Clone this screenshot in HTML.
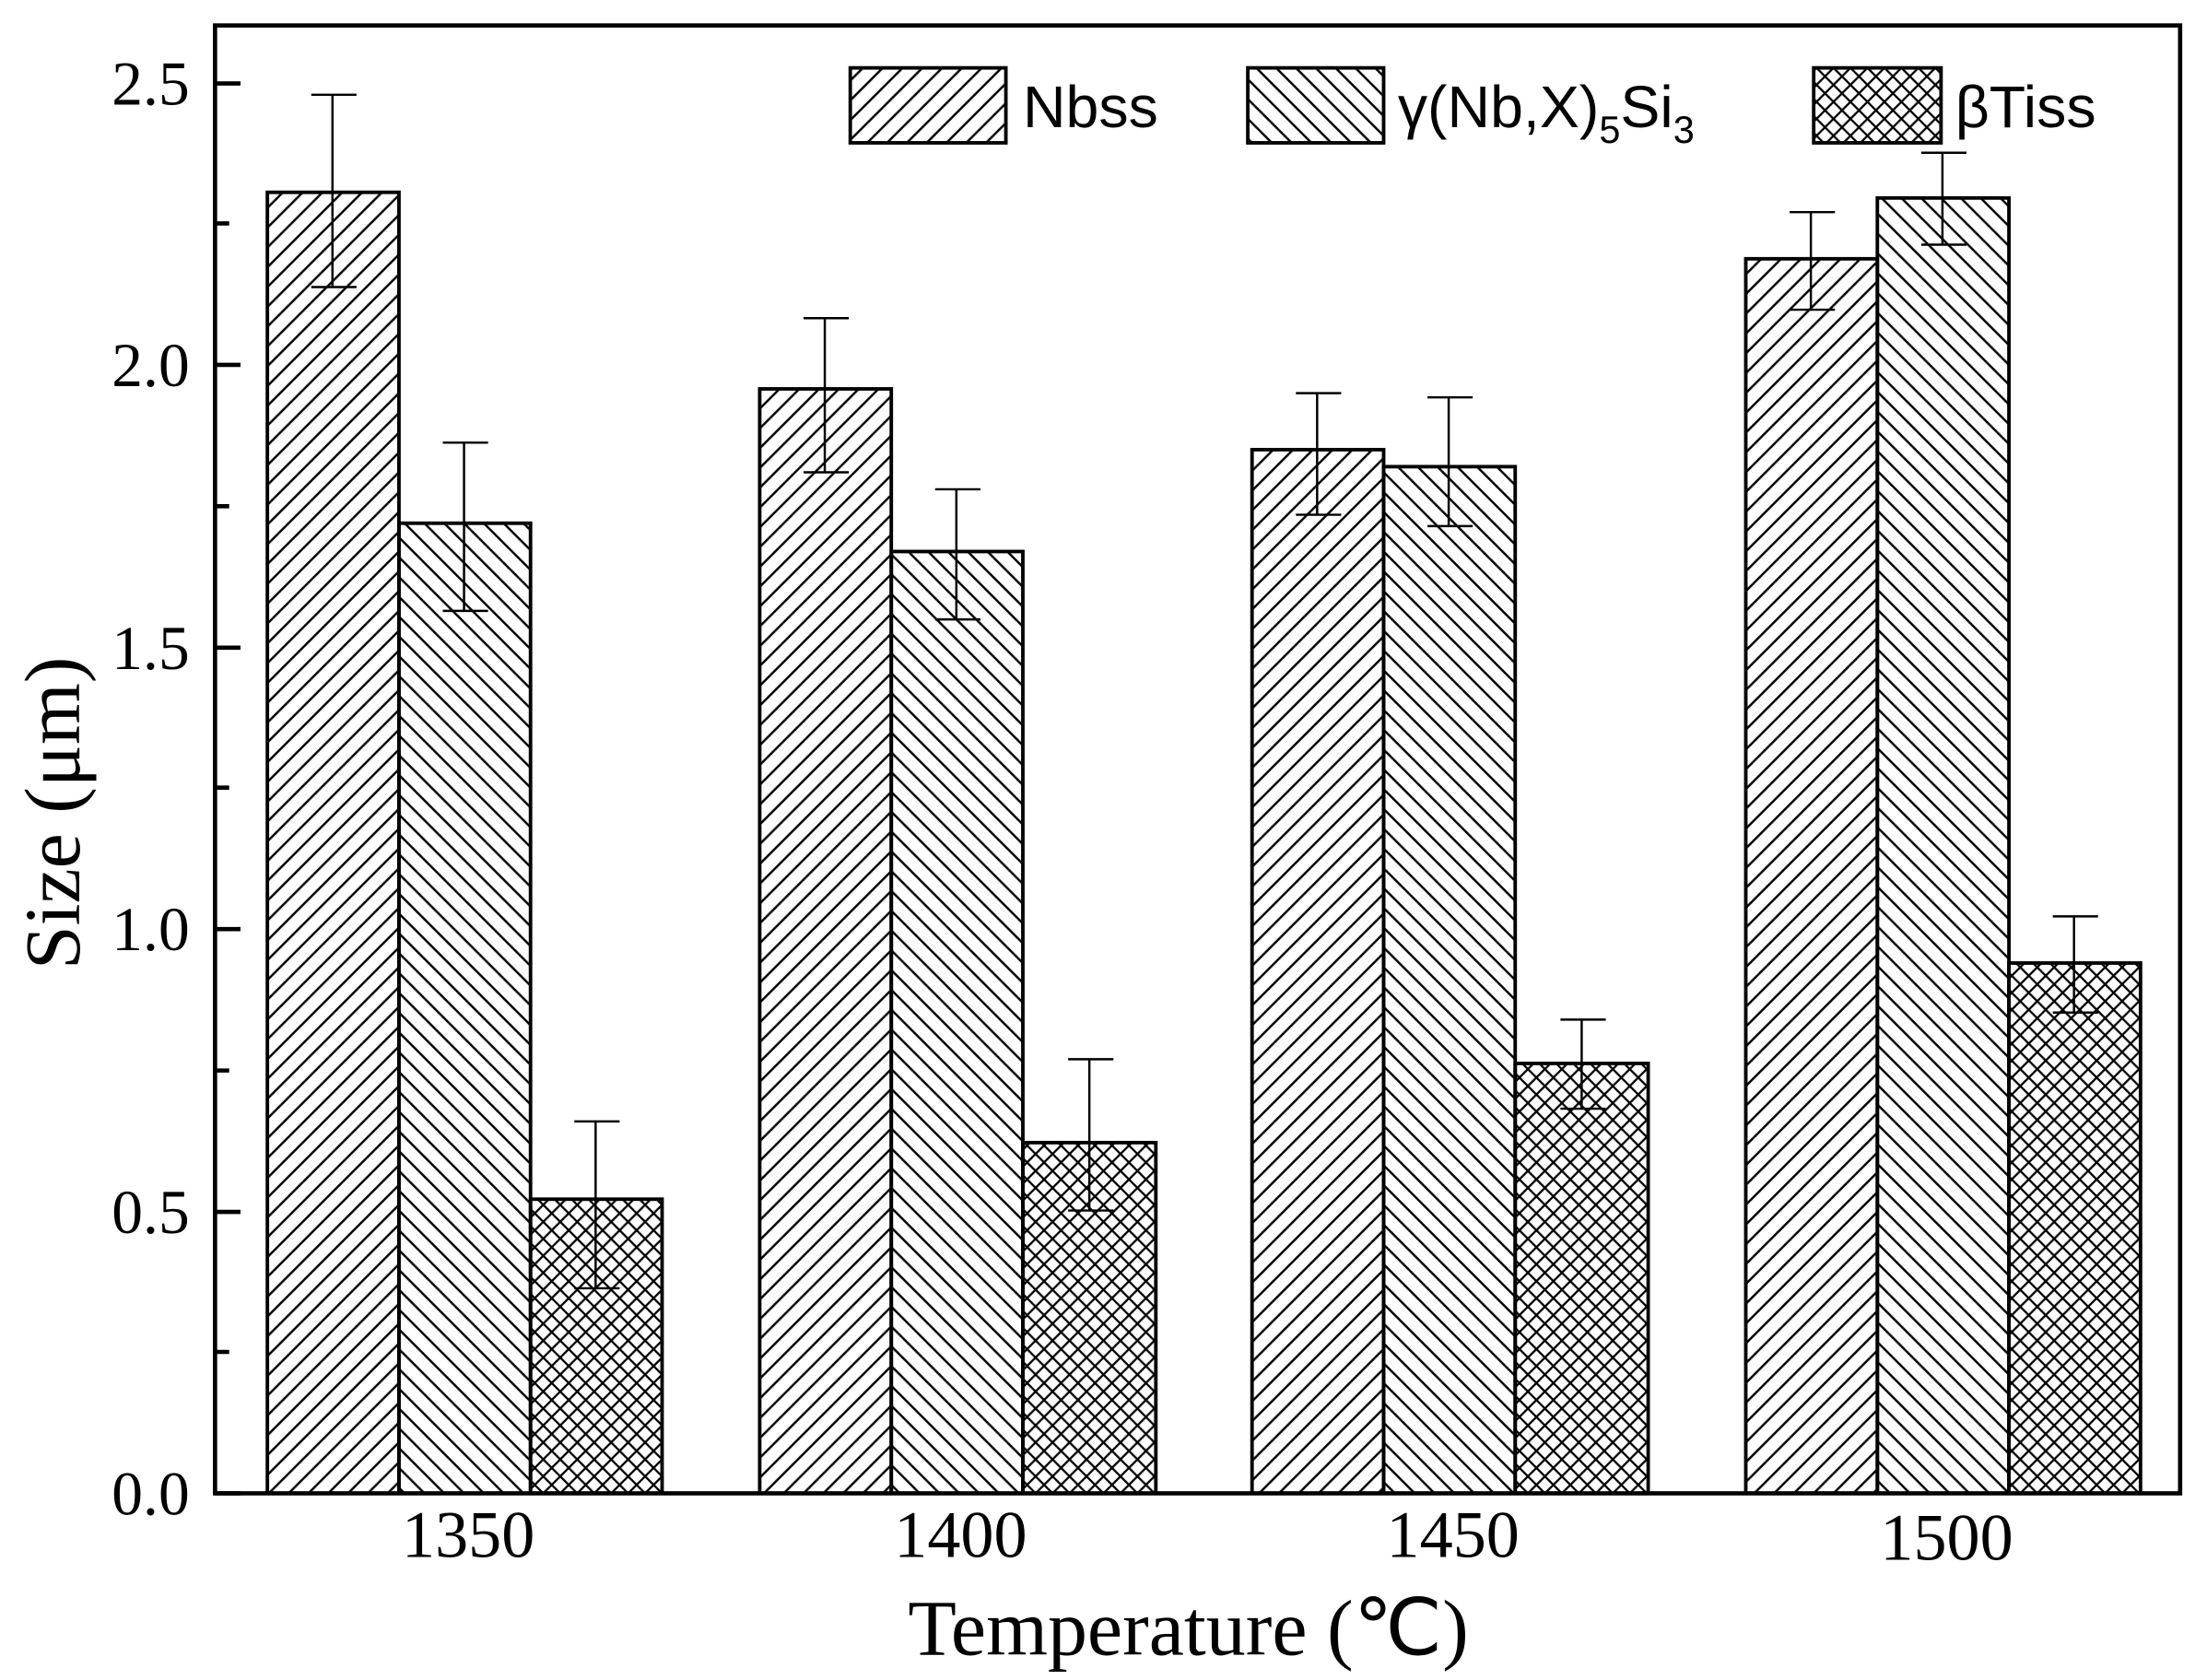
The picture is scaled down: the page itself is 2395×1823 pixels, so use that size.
<!DOCTYPE html>
<html><head><meta charset="utf-8"><style>html,body{margin:0;padding:0;background:#fff}svg{display:block}</style></head><body>
<svg width="2395" height="1823" viewBox="0 0 1560 1188" preserveAspectRatio="none" xmlns="http://www.w3.org/2000/svg" font-family="'Liberation Serif', serif">
<defs>
<pattern id="p1" patternUnits="userSpaceOnUse" width="14" height="14"><path d="M-2,16 L16,-2 M-9,9 L9,-9 M5,23 L23,5" stroke="#000" stroke-width="1.6"/></pattern>
<pattern id="p2" patternUnits="userSpaceOnUse" width="14" height="14"><path d="M-2,-2 L16,16 M5,-9 L23,9 M-9,5 L9,23" stroke="#000" stroke-width="1.6"/></pattern>
<pattern id="p3" patternUnits="userSpaceOnUse" width="12" height="12"><path d="M-2,14 L14,-2 M-8,8 L8,-8 M4,20 L20,4 M-2,-2 L14,14 M4,-8 L20,8 M-8,4 L8,20" stroke="#000" stroke-width="1.5"/></pattern>
</defs>
<rect width="1560" height="1188" fill="#fff"/>
<g stroke="#000" stroke-width="2.5">
<rect x="189" y="136" width="93" height="920" fill="url(#p1)"/>
<rect x="282" y="370" width="93" height="686" fill="url(#p2)"/>
<rect x="375" y="848" width="93" height="208" fill="url(#p3)"/>
<rect x="537" y="275" width="93" height="781" fill="url(#p1)"/>
<rect x="630" y="390" width="93" height="666" fill="url(#p2)"/>
<rect x="723" y="808" width="94" height="248" fill="url(#p3)"/>
<rect x="885" y="318" width="93" height="738" fill="url(#p1)"/>
<rect x="978" y="330" width="93" height="726" fill="url(#p2)"/>
<rect x="1071" y="752" width="94" height="304" fill="url(#p3)"/>
<rect x="1234" y="183" width="93" height="873" fill="url(#p1)"/>
<rect x="1327" y="140" width="93" height="916" fill="url(#p2)"/>
<rect x="1420" y="681" width="93" height="375" fill="url(#p3)"/>
</g>
<g stroke="#000" stroke-width="1.6" fill="none">
<path d="M235,67V203M220,67H252M220,203H252"/>
<path d="M328,313V432M313,313H345M313,432H345"/>
<path d="M421,793V911M406,793H438M406,911H438"/>
<path d="M583,225V334M568,225H600M568,334H600"/>
<path d="M676,346V438M661,346H693M661,438H693"/>
<path d="M770,749V856M755,749H787M755,856H787"/>
<path d="M931,278V364M916,278H948M916,364H948"/>
<path d="M1024,281V372M1009,281H1041M1009,372H1041"/>
<path d="M1118,721V784M1103,721H1135M1103,784H1135"/>
<path d="M1280,150V219M1265,150H1297M1265,219H1297"/>
<path d="M1373,108V173M1358,108H1390M1358,173H1390"/>
<path d="M1466,648V716M1451,648H1483M1451,716H1483"/>
</g>
<rect x="152" y="18" width="1389" height="1038" fill="none" stroke="#000" stroke-width="3"/>
<g stroke="#000" stroke-width="3">
<path d="M152,1056h18M152,857h18M152,657h18M152,458h18M152,258h18M152,59h18"/>
<path d="M152,956h10M152,757h10M152,557h10M152,358h10M152,158h10"/>
</g>
<g font-size="44" text-anchor="end">
<text x="134" y="1071">0.0</text><text x="134" y="872">0.5</text><text x="134" y="672">1.0</text>
<text x="134" y="473">1.5</text><text x="134" y="273">2.0</text><text x="134" y="74">2.5</text>
</g>
<g font-size="47" text-anchor="middle">
<text x="331" y="1101">1350</text><text x="679" y="1101">1400</text><text x="1027" y="1101">1450</text><text x="1376" y="1103">1500</text>
</g>
<text x="840" y="1170" font-size="56" text-anchor="middle">Temperature (℃)</text>
<text transform="translate(56,575) rotate(-90)" font-size="56" text-anchor="middle">Size (μm)</text>
<g stroke="#000" stroke-width="2.5">
<rect x="601" y="48" width="110" height="53" fill="url(#p1)"/>
<rect x="882" y="48" width="96" height="53" fill="url(#p2)"/>
<rect x="1282" y="48" width="90" height="53" fill="url(#p3)"/>
</g>
<g font-size="42" font-family="'Liberation Sans', sans-serif">
<text x="723" y="90">Nbss</text>
<text x="988" y="90">γ(Nb,X)<tspan font-size="27" dy="11">5</tspan><tspan dy="-11">Si</tspan><tspan font-size="27" dy="11">3</tspan></text>
<text x="1382" y="90">βTiss</text>
</g>
</svg>
</body></html>
